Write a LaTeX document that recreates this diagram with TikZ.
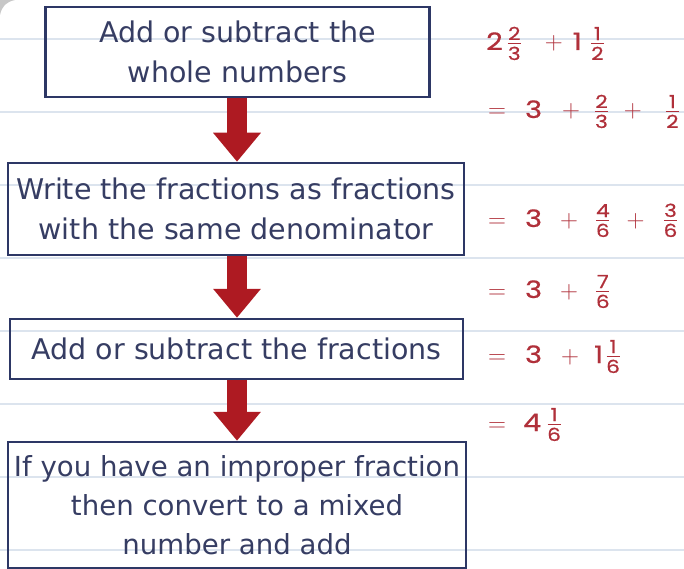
\documentclass[tikz,border=0pt]{standalone}
\usepackage{amsmath}
\usepackage{fontspec}
\setmainfont{DejaVu Sans}
\newfontfamily\digitfont{Poppins}[FakeStretch=1.2,FakeBold=0.6]
\usetikzlibrary{arrows.meta}
\definecolor{boxc}{HTML}{2D3765}
\definecolor{txtc}{HTML}{363D63}
\definecolor{redc}{HTML}{AE1A22}
\definecolor{mathc}{HTML}{B0303A}
\definecolor{rulec}{HTML}{DCE4EE}
\newcommand\fr[2]{\raisebox{-10pt}{\vbox{\digitfont\fontsize{18}{18}\selectfont\offinterlineskip
  \halign{\hfil##\hfil\cr #1\cr\noalign{\vskip2.5pt}\rule{13pt}{1.2pt}\cr\noalign{\vskip3pt}#2\cr}}}}
\newcommand\pl{\ensuremath{+}}
\newcommand\eq{\ensuremath{=}}
\begin{document}
\begin{tikzpicture}[x=1pt,y=-1pt,
  stepbox/.style={draw=boxc, line width=2.5pt, text=txtc, align=center, inner sep=0pt,
    font=\fontsize{28.5}{40}\selectfont},
  flowarrow/.style={draw=redc, line width=20pt, -{Triangle[length=29pt,width=46pt]}},
  mathline/.style={anchor=base west, text=mathc, inner sep=0pt,
    font=\digitfont\fontsize{24}{28}\selectfont}]
\useasboundingbox (0,0) rectangle (684,569);
\fill[white] (0,0) rectangle (684,569);
\foreach \yy in {39,112,185,258,331,404,477,550}
  \draw[rulec, line width=1.3pt] (0,\yy) -- (684,\yy);
\fill[black!22] (0,0) -- (15,0) .. controls (6,2) and (2,6) .. (0,15) -- cycle;

\node[stepbox, minimum width=384pt, minimum height=90pt] (b1) at (237.5,52)
  {Add or subtract the\\whole numbers};
\node[stepbox, minimum width=456pt, minimum height=92pt] (b2) at (236,209)
  {Write the fractions as fractions\\with the same denominator};
\node[stepbox, minimum width=453pt, minimum height=60pt] (b3) at (236.5,349)
  {Add or subtract the fractions};
\node[stepbox, minimum width=458pt, minimum height=126pt, font=\fontsize{27.6}{39}\selectfont] (b4) at (237,505)
  {If you have an improper fraction\\then convert to a mixed\\number and add};

\coordinate (ax) at (237,0);
\draw[flowarrow] (ax |- b1.south) -- (ax |- b2.north);
\draw[flowarrow] (ax |- b2.south) -- (ax |- b3.north);
\draw[flowarrow] (ax |- b3.south) -- (ax |- b4.north);

\node[mathline] (m1) at (486,50) {2\hspace{5pt}\fr23\hspace{24pt}\pl\hspace{10pt}1\hspace{9pt}\fr12};
\node[mathline] (m2) at (488,118) {\eq\hspace{19pt}3\hspace{20pt}\pl\hspace{15pt}\fr23\hspace{16pt}\pl\hspace{24pt}\fr12};
\node[mathline] (m3) at (488,227) {\eq\hspace{19pt}3\hspace{18pt}\pl\hspace{18pt}\fr46\hspace{17pt}\pl\hspace{19pt}\fr36};
\node[mathline] (m4) at (488,298) {\eq\hspace{19pt}3\hspace{18pt}\pl\hspace{18pt}\fr76};
\node[mathline] (m5) at (488,363) {\eq\hspace{19pt}3\hspace{19pt}\pl\hspace{15pt}1\hspace{3pt}\fr16};
\node[mathline] (m6) at (488,431) {\eq\hspace{17pt}4\hspace{6pt}\fr16};
\end{tikzpicture}
\end{document}
